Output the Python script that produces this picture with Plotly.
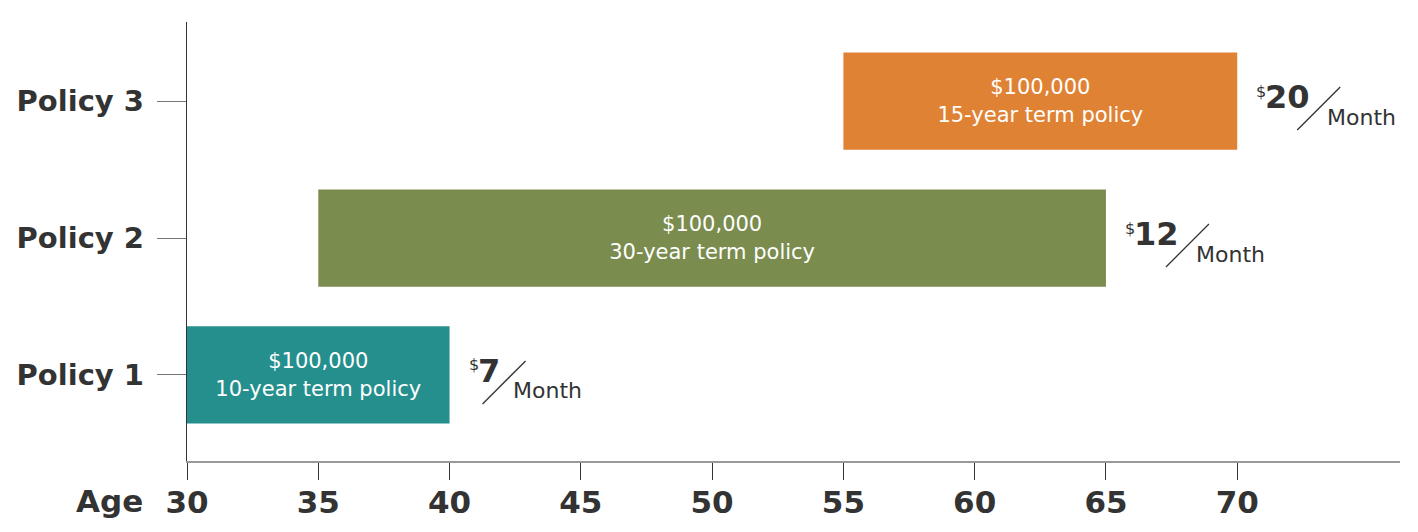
import plotly.graph_objects as go

# policy data
policies = ["Policy 1", "Policy 2", "Policy 3"]
start_age = [30, 35, 55]
term_years = [10, 30, 15]
coverage = ["$100,000", "$100,000", "$100,000"]
monthly_cost = [7, 12, 20]
bar_colors = ["#258F8E", "#7A8C4E", "#E08234"]
age_ticks = [30, 35, 40, 45, 50, 55, 60, 65, 70]

FONT = "DejaVu Sans"
DARK = "#333333"

labels = [f"{c}<br>{t}-year term policy" for c, t in zip(coverage, term_years)]
ypos = list(range(len(policies)))

fig = go.Figure(go.Bar(
    y=ypos,
    x=term_years,
    base=start_age,
    orientation="h",
    width=0.71,
    marker=dict(color=bar_colors, line=dict(width=0)),
    text=labels,
    textposition="inside",
    insidetextanchor="middle",
    textfont=dict(family=FONT, size=21, color="white"),
    hoverinfo="skip",
))

annotations = []
shapes = []
for i, (s, t, p) in enumerate(zip(start_age, term_years, monthly_cost)):
    end = s + t
    n = len(str(p))
    slash_x0 = 33 + 27 * (n - 1)
    annotations.append(dict(x=end, y=i, xref="x", yref="y", text="$", showarrow=False,
                            xanchor="left", yanchor="middle", xshift=17, yshift=10,
                            font=dict(family=FONT, size=16, color=DARK)))
    annotations.append(dict(x=end, y=i, xref="x", yref="y", text=f"<b>{p}</b>", showarrow=False,
                            xanchor="left", yanchor="middle", xshift=26, yshift=4,
                            font=dict(family=FONT, size=32, color=DARK)))
    annotations.append(dict(x=end, y=i, xref="x", yref="y", text="Month", showarrow=False,
                            xanchor="left", yanchor="middle", xshift=slash_x0 + 28, yshift=-16,
                            font=dict(family=FONT, size=22, color=DARK)))
    shapes.append(dict(type="line", xref="x", yref="y", xsizemode="pixel", ysizemode="pixel",
                       xanchor=end, yanchor=i, x0=slash_x0, x1=slash_x0 + 43, y0=-29, y1=14,
                       line=dict(color=DARK, width=1.3)))

annotations.append(dict(x=30, y=0, xref="x", yref="paper", text="<b>Age</b>", showarrow=False,
                        xanchor="right", yanchor="top", xshift=-42, yshift=-20,
                        font=dict(family=FONT, size=31, color=DARK)))

# the page body adds an 8px margin, so the figure is 8px smaller than the window
fig.update_layout(
    width=1410, height=524,
    margin=dict(l=179, r=18, t=14, b=71),
    plot_bgcolor="white", paper_bgcolor="white",
    showlegend=False,
    annotations=annotations,
    shapes=shapes,
    font=dict(family=FONT, color=DARK),
)
fig.update_xaxes(
    range=[30, 76.2], tickvals=age_ticks, ticktext=[f"<b>{a}</b>" for a in age_ticks],
    showgrid=False, zeroline=False, showline=True, linecolor="#999999", linewidth=2,
    ticks="outside", ticklen=17, tickcolor=DARK, tickwidth=1.2, automargin=False,
    tickfont=dict(family=FONT, size=31, color=DARK), ticklabelstandoff=-4,
)
fig.update_yaxes(
    range=[-0.628, 2.577], tickvals=ypos, ticktext=[f"<b>{p}</b>" for p in policies],
    showgrid=False, zeroline=False, showline=True, linecolor=DARK, linewidth=1.3,
    ticks="outside", ticklen=29, tickcolor="#777777", tickwidth=1.2, automargin=False,
    tickfont=dict(family=FONT, size=29, color=DARK), ticklabelstandoff=7,
)

fig.write_html("out.html")
